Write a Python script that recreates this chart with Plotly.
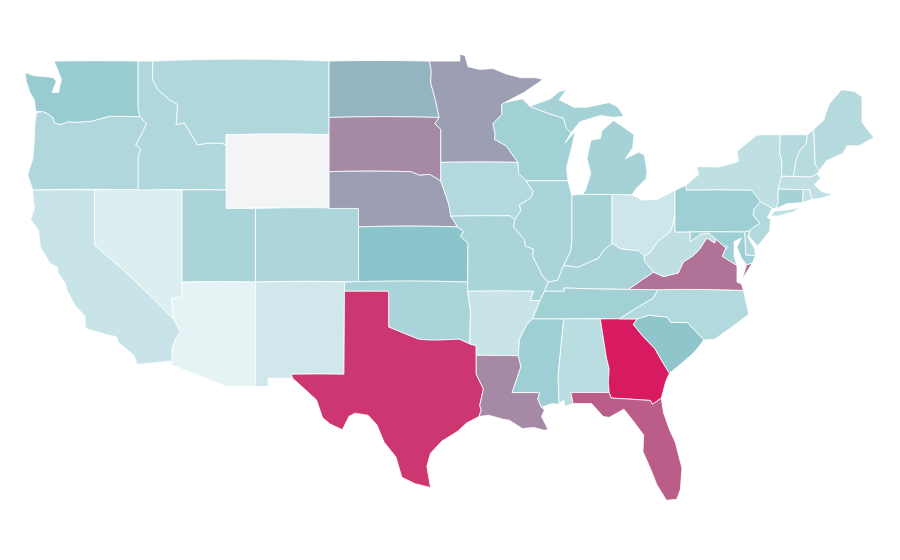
import plotly.graph_objects as go

# Values (relative shade of each state).
states = ["WA","OR","CA","NV","ID","MT","WY","UT","AZ","CO","NM","ND","SD","NE","KS","OK","TX","MN","IA","MO","AR","LA","WI","IL","IN","MI","OH","KY","TN","MS","AL","GA","FL","SC","NC","VA","WV","PA","NY","VT","NH","ME","MA","RI","CT","NJ","DE","MD","DC"]
values = [33,25,15.5,8.6,25,25,0,27,5,26,13,44,60,52,38,27,90,52,24,27,15.5,60,30,27,28,29,14,27,30,31,21,100,76,37,24,68,19,31,19,23,22,23,19,19,29,24,25,31,31]
colorscale = [[0,"#f3f4f6"],[0.05,"#e6f3f5"],[0.38,"#8bc5cb"],[1,"#d81b60"]]

# Base-map geometry: approximate state outlines (lon, lat), written by hand because
# plotly's own boundary files are fetched from a CDN and there is no network here.
columbia = [(-118.98,46.0),(-119.3,45.93),(-120.2,45.73),(-121.2,45.67),(-121.8,45.7),(-122.3,45.55),(-122.76,45.65),(-122.8,45.9),(-123.2,46.15),(-123.55,46.26)]
snake = [(-117.03,43.83),(-116.85,44.2),(-117.2,44.45),(-116.85,44.95),(-116.47,45.6),(-116.92,45.99)]
bitterroot = [(-116.05,49.0),(-116.05,48.0),(-115.7,47.45),(-114.9,46.9),(-114.35,46.65),(-114.45,45.55),(-113.9,45.65),(-113.45,45.05),(-113.0,44.45),(-112.3,44.55),(-111.5,44.55),(-111.05,44.48)]
colorado_r = [(-114.05,36.2),(-114.75,36.1),(-114.63,35.0),(-114.15,34.3),(-114.5,33.9),(-114.72,33.4),(-114.72,32.72)]
red_n = [(-97.23,49.0),(-97.1,48.5),(-97.13,47.8),(-96.85,47.0),(-96.56,45.94)]
sd_ia = [(-96.56,45.94),(-96.85,45.6),(-96.45,45.3),(-96.45,43.5)]
sd_ne = [(-104.05,43.0),(-98.5,43.0),(-97.9,42.8),(-97.2,42.85),(-96.45,42.49)]
missouri_w = [(-96.45,42.49),(-96.1,41.7),(-95.9,41.2),(-95.77,40.58)]
ks_mo = [(-95.77,40.58),(-95.31,40.0),(-94.9,39.75),(-95.1,39.5),(-94.6,39.1),(-94.62,37.0)]
red_s = [(-100.0,34.56),(-98.9,34.2),(-97.95,33.9),(-97.2,33.85),(-96.6,33.85),(-95.2,33.9),(-94.48,33.64)]
sabine = [(-94.04,32.0),(-93.55,31.2),(-93.8,30.3),(-93.7,30.05),(-93.85,29.7)]
miss_up = [(-92.3,46.65),(-92.3,46.1),(-92.9,45.6),(-92.75,45.0),(-92.8,44.75),(-92.0,44.4),(-91.2,43.5)]
miss_ia = [(-91.2,43.5),(-91.15,42.9),(-90.65,42.5)]
miss_il_ia = [(-90.65,42.5),(-90.15,41.9),(-90.35,41.55),(-91.1,41.2),(-91.0,40.9),(-91.42,40.38)]
miss_il_mo = [(-91.42,40.38),(-91.5,40.0),(-90.75,39.3),(-90.7,38.95),(-90.15,38.8),(-90.2,38.4),(-89.5,37.3),(-89.15,37.0)]
miss_ky = [(-89.15,37.0),(-89.4,36.5),(-89.7,36.0)]
miss_ar = [(-89.7,36.0),(-90.2,35.0),(-90.6,34.7),(-91.1,33.9),(-91.17,33.0)]
miss_la = [(-91.17,33.0),(-91.0,32.4),(-91.6,31.0),(-89.73,31.0),(-89.85,30.65),(-89.6,30.2)]
ohio_il = [(-89.15,37.0),(-88.5,37.1),(-88.1,37.9)]
ohio_in = [(-88.1,37.9),(-87.1,37.8),(-86.3,38.1),(-85.7,38.3),(-85.4,38.7),(-84.8,39.1)]
ohio_oh = [(-84.8,39.1),(-84.2,38.8),(-83.0,38.7),(-82.6,38.4)]
ohio_wv = [(-82.6,38.4),(-82.2,38.6),(-81.7,39.2),(-80.85,39.7),(-80.7,40.0),(-80.52,40.64)]
wabash = [(-88.1,37.9),(-88.03,38.0),(-87.6,38.7),(-87.53,39.35),(-87.53,41.7)]
ky_va = [(-83.68,36.6),(-81.97,37.54)]
ky_wv = [(-81.97,37.54),(-82.6,38.15),(-82.6,38.4)]
ky_tn = [(-89.4,36.5),(-88.05,36.5),(-88.07,36.68),(-86.0,36.63),(-83.68,36.6)]
tn_nc = [(-81.68,36.59),(-82.0,36.13),(-84.32,35.0)]
va_wv = [(-81.97,37.54),(-81.3,37.3),(-80.3,37.5),(-79.95,38.1),(-79.3,38.42),(-78.87,38.76),(-78.35,39.4),(-77.83,39.13),(-77.72,39.32)]
potomac = [(-77.72,39.32),(-77.05,38.85),(-77.3,38.4),(-76.3,37.9)]
md_wv = [(-77.72,39.32),(-78.2,39.65),(-78.8,39.6),(-79.48,39.2),(-79.48,39.72)]
sav = [(-83.1,35.0),(-83.35,34.7),(-82.75,34.1),(-81.9,33.4),(-81.4,32.7),(-80.9,32.05)]
sc_nc = [(-83.1,35.0),(-82.3,35.2),(-81.05,35.1),(-80.8,34.82),(-79.67,34.8),(-78.55,33.86)]
ga_al = [(-85.6,35.0),(-85.18,32.87),(-85.0,32.3),(-85.05,31.55),(-85.0,31.0)]
ga_fl = [(-85.0,31.0),(-84.86,30.7),(-82.2,30.57),(-82.05,30.36),(-81.45,30.7)]
ms_al = [(-88.2,35.0),(-88.1,34.9),(-88.47,31.9),(-88.4,30.37)]
delaware = [(-75.05,41.75),(-74.7,41.36),(-75.13,40.98),(-75.2,40.65),(-74.75,40.2),(-75.4,39.8)]
ct_ma_e = [(-73.5,42.05),(-71.8,42.02)]
vt_nh = [(-71.5,45.0),(-71.6,44.5),(-72.05,44.1),(-72.3,43.6),(-72.46,42.73)]
ny_vt = [(-73.35,45.0),(-73.4,44.0),(-73.25,43.6),(-73.27,42.75)]
mi_n = [(-90.4,46.55),(-89.1,46.15),(-88.1,45.9),(-87.9,45.35),(-87.6,45.1)]

def r(line):
    return line[::-1]

shapes = {
 "WA":[[(-122.76,49.0),(-117.04,49.0),(-117.04,46.42),(-116.92,45.99)]+columbia+[(-124.0,46.27),(-124.07,46.7),(-124.1,46.9),(-124.4,47.3),(-124.65,47.9),(-124.73,48.38),(-124.1,48.2),(-123.2,48.15),(-122.8,48.1),(-122.6,47.9),(-122.9,47.3),(-122.45,47.3),(-122.35,47.7),(-122.25,48.0),(-122.5,48.5)]],
 "OR":[[(-124.2,42.0),(-117.03,42.0)]+snake+columbia+[(-123.95,46.2),(-124.05,45.7),(-124.1,44.7),(-124.2,43.7),(-124.55,42.84)]],
 "CA":[[(-124.2,42.0),(-120.0,42.0),(-120.0,39.0)]+colorado_r[2:]+[(-117.12,32.53),(-117.3,33.0),(-118.4,33.75),(-118.5,34.03),(-119.2,34.15),(-120.5,34.45),(-120.65,34.6),(-120.65,35.15),(-121.3,35.7),(-121.9,36.6),(-122.0,36.95),(-122.5,37.5),(-122.5,37.8),(-123.0,38.0),(-123.7,38.9),(-123.8,39.8),(-124.35,40.4),(-124.1,41.0),(-124.2,41.75)]],
 "NV":[[(-120.0,42.0),(-114.05,42.0)]+colorado_r[:3]+[(-120.0,39.0)]],
 "ID":[[(-117.04,49.0)]+bitterroot+[(-111.05,42.0),(-117.03,42.0)]+snake+[(-117.04,46.42)]],
 "MT":[[(-116.05,49.0),(-104.05,49.0),(-104.05,45.0),(-111.05,45.0),(-111.05,44.48)]+r(bitterroot)[1:]],
 "WY":[[(-111.05,45.0),(-104.05,45.0),(-104.05,41.0),(-111.05,41.0)]],
 "UT":[[(-114.05,42.0),(-111.05,42.0),(-111.05,41.0),(-109.05,41.0),(-109.05,37.0),(-114.05,37.0)]],
 "AZ":[[(-114.05,37.0),(-109.05,37.0),(-109.05,31.33),(-111.07,31.33),(-114.8,32.5)]+r(colorado_r)],
 "CO":[[(-109.05,41.0),(-102.05,41.0),(-102.05,37.0),(-109.05,37.0)]],
 "NM":[[(-109.05,37.0),(-103.0,37.0),(-103.04,32.0),(-106.62,32.0),(-106.53,31.78),(-108.2,31.78),(-108.2,31.33),(-109.05,31.33)]],
 "ND":[[(-104.05,49.0)]+red_n+[(-104.05,45.94)]],
 "SD":[[(-104.05,45.94)]+sd_ia+r(sd_ne)],
 "NE":[sd_ne+missouri_w+ks_mo[1:2]+[(-102.05,40.0),(-102.05,41.0),(-104.05,41.0)]],
 "KS":[[(-102.05,40.0)]+ks_mo[1:]+[(-102.04,37.0)]],
 "OK":[[(-103.0,37.0),(-94.62,37.0),(-94.62,36.5),(-94.43,35.4)]+r(red_s)+[(-100.0,36.5),(-103.0,36.5)]],
 "TX":[[(-106.62,32.0),(-103.04,32.0),(-103.0,36.5),(-100.0,36.5)]+red_s+[(-94.04,33.55)]+sabine+[(-94.7,29.35),(-95.3,28.9),(-96.4,28.35),(-97.15,27.7),(-97.4,27.0),(-97.15,25.84),(-98.2,26.05),(-99.1,26.4),(-99.5,27.5),(-100.3,28.3),(-100.8,29.25),(-101.4,29.77),(-102.3,29.88),(-102.7,29.7),(-103.15,28.98),(-104.0,29.3),(-104.5,29.65),(-104.9,30.6),(-106.0,31.4),(-106.53,31.78)]],
 "MN":[[(-97.23,49.0),(-95.15,49.0),(-95.15,49.38),(-94.8,49.3),(-94.6,48.7),(-93.8,48.55),(-92.9,48.6),(-92.0,48.3),(-91.0,48.1),(-90.0,48.1),(-89.5,48.0),(-90.8,47.3),(-92.1,46.75)]+miss_up+r(sd_ia)+r(red_n)[1:-1]],
 "IA":[[(-96.45,43.5),(-91.2,43.5)]+miss_ia[1:]+miss_il_ia[1:]+[(-91.73,40.6)]+r(missouri_w)],
 "MO":[[(-95.77,40.58),(-91.73,40.6)]+miss_il_mo+miss_ky[1:]+[(-90.37,36.0),(-90.15,36.5),(-94.62,36.5)]+r(ks_mo)[:-1]],
 "AR":[[(-94.62,36.5),(-90.15,36.5),(-90.37,36.0)]+miss_ar+[(-94.04,33.02),(-94.04,33.55),(-94.48,33.64),(-94.43,35.4)]],
 "LA":[[(-94.04,33.02)]+miss_la+[(-89.4,30.05),(-89.6,29.7),(-89.15,29.0),(-89.4,28.95),(-90.1,29.1),(-90.9,29.05),(-91.8,29.5),(-92.2,29.55),(-93.2,29.77)]+r(sabine)],
 "MS":[[(-90.2,35.0)]+ms_al+[(-88.9,30.4)]+r(miss_la)+r(miss_ar)[1:3]],
 "TN":[[(-89.7,36.0),(-89.4,36.5)]+ky_tn[1:]+[(-81.68,36.59)]+tn_nc[1:]+[(-88.2,35.0),(-90.2,35.0)]],
 "KY":[[(-89.4,36.5),(-89.15,37.0)]+ohio_il[1:]+ohio_in[1:]+ohio_oh[1:]+r(ky_wv)[1:]+[(-83.68,36.6)]+r(ky_tn)[1:-1]],
 "IL":[[(-90.65,42.5),(-87.8,42.5),(-87.53,41.7)]+r(wabash)[1:]+r(ohio_il)[1:]+r(miss_il_mo)[1:]+r(miss_il_ia)[1:-1]],
 "IN":[[(-87.53,41.7),(-87.2,41.75),(-86.8,41.76),(-84.8,41.76)]+r(ohio_in)+wabash[1:4]],
 "OH":[[(-84.8,41.76),(-83.45,41.73),(-82.7,41.45),(-81.7,41.5),(-80.52,41.98)]+r(ohio_wv)+r(ohio_oh)[1:]],
 "MI":[[(-86.8,41.76),(-84.8,41.76),(-83.45,41.73),(-83.15,42.1),(-82.5,42.6),(-82.42,43.0),(-82.6,43.9),(-83.0,44.05),(-83.9,43.7),(-83.4,44.3),(-83.3,45.0),(-84.7,45.78),(-85.5,45.2),(-85.6,44.8),(-86.25,44.7),(-86.5,43.7),(-86.25,42.9),(-86.6,42.0)],
       [(-90.4,46.55),(-89.0,46.95),(-88.4,47.35),(-87.9,47.45),(-88.4,46.9),(-87.4,46.5),(-86.5,46.5),(-85.0,46.75),(-84.4,46.5),(-84.0,46.0),(-84.7,45.95),(-85.6,46.05),(-86.6,45.8),(-87.0,45.7)]+r(mi_n)[:-1]],
 "WI":[[(-92.1,46.75),(-90.9,46.95)]+mi_n+[(-88.0,44.55),(-87.3,45.2),(-87.55,44.3),(-87.9,43.2),(-87.8,42.5)]+r(miss_ia)+r(miss_up)[1:]],
 "AL":[[(-88.2,35.0)]+ga_al+[(-87.6,31.0),(-87.45,30.4),(-88.0,30.25),(-88.1,30.6)]+r(ms_al)[:-1]],
 "GA":[ga_al+ga_fl[1:]+[(-81.15,31.6)]+r(sav)],
 "FL":[[(-87.6,31.0)]+ga_fl+[(-81.3,29.9),(-80.9,29.0),(-80.5,28.3),(-80.05,26.9),(-80.15,25.75),(-80.4,25.2),(-81.1,25.15),(-81.75,26.0),(-82.15,26.8),(-82.7,27.8),(-82.65,28.7),(-83.4,29.5),(-84.0,30.1),(-85.0,29.65),(-85.4,29.7),(-86.2,30.4),(-87.45,30.4)]],
 "SC":[sc_nc+[(-79.2,33.2),(-79.9,32.7)]+r(sav)[:-1]],
 "NC":[[(-84.32,35.0),(-82.0,36.13),(-81.68,36.59),(-75.87,36.55),(-75.5,35.25),(-76.5,34.65),(-77.8,33.9)]+r(sc_nc)],
 "VA":[[(-83.68,36.6)]+va_wv+potomac[1:]+[(-76.3,37.0),(-76.0,36.9),(-75.87,36.55),(-81.68,36.59)],
       [(-75.95,37.15),(-75.6,37.6),(-75.25,38.03),(-75.65,37.95)]],
 "WV":[ohio_wv+[(-80.52,39.72),(-79.48,39.72),(-79.48,39.2),(-78.8,39.6),(-78.2,39.65)]+r(va_wv)+[(-82.6,38.15)]],
 "MD":[[(-79.48,39.72),(-75.79,39.72),(-75.7,38.46),(-75.05,38.45),(-75.25,38.03),(-75.65,37.95),(-76.0,38.3),(-76.3,38.9),(-76.0,39.4),(-76.5,39.2),(-76.5,38.4),(-76.3,37.9),(-77.3,38.4),(-77.05,38.85)]+md_wv[:-1]],
 "DC":[[(-77.12,38.93),(-77.04,39.0),(-76.91,38.89),(-77.04,38.79)]],
 "DE":[[(-75.79,39.72),(-75.4,39.8),(-75.55,39.45),(-75.1,38.8),(-75.05,38.45),(-75.7,38.46)]],
 "PA":[[(-80.52,41.98),(-79.76,42.27),(-79.76,42.0),(-75.35,42.0)]+delaware+[(-75.79,39.72),(-80.52,39.72),(-80.52,40.64)]],
 "NY":[[(-79.76,42.27),(-78.9,42.85),(-79.05,43.27),(-77.5,43.25),(-76.2,43.55),(-76.3,44.1),(-75.0,44.95),(-74.7,45.0)]+ny_vt+[(-73.5,42.05),(-73.5,41.3),(-73.65,41.0),(-73.9,41.0),(-74.7,41.36),(-75.05,41.75),(-75.35,42.0),(-79.76,42.0)],
       [(-74.0,40.6),(-73.75,40.85),(-72.6,40.95),(-71.9,41.07),(-72.5,40.8),(-73.6,40.58)]],
 "NJ":[[(-74.7,41.36),(-73.9,41.0),(-74.25,40.5),(-74.0,40.4),(-74.1,39.75),(-74.9,38.95),(-75.5,39.5),(-75.4,39.85)]+r(delaware)[1:-1]],
 "CT":[ct_ma_e+[(-71.85,41.32),(-72.9,41.25),(-73.65,41.0),(-73.5,41.3)]],
 "RI":[[(-71.8,42.02),(-71.38,42.02),(-71.2,41.5),(-71.85,41.32)]],
 "MA":[[(-73.27,42.75),(-72.46,42.73),(-71.3,42.7),(-70.85,42.87),(-70.6,42.65),(-71.05,42.3),(-70.6,41.95),(-70.05,41.8),(-70.0,42.05),(-69.95,41.7),(-70.65,41.55),(-71.2,41.5),(-71.38,42.02),(-71.8,42.02),(-73.5,42.05)]],
 "VT":[[(-73.35,45.0)]+vt_nh+r(ny_vt)[:-1]],
 "NH":[[(-71.5,45.0),(-71.08,45.3),(-70.98,43.4),(-70.7,43.07),(-70.85,42.87),(-71.3,42.7)]+r(vt_nh)[:-1]],
 "ME":[[(-71.08,45.3),(-70.4,45.8),(-70.25,46.2),(-70.0,46.7),(-69.2,47.45),(-68.3,47.35),(-67.8,47.05),(-67.8,45.7),(-67.45,45.3),(-67.0,44.85),(-68.0,44.4),(-68.8,44.4),(-69.1,44.0),(-70.2,43.6),(-70.7,43.07),(-70.98,43.4)]],
}

# The reference map is a plain lon/lat grid, stretched north-south. Plotly's
# equirectangular projection keeps degrees square, so latitudes are scaled here.
LAT_STRETCH = 1.2525

def clockwise(ring):
    ring = [(x, y*LAT_STRETCH) for x, y in ring]
    area = sum(a[0]*b[1]-b[0]*a[1] for a, b in zip(ring, ring[1:]+ring[:1]))
    ring = ring if area < 0 else ring[::-1]
    return [list(p) for p in ring+ring[:1]]

geojson = {"type":"FeatureCollection","features":[
    {"type":"Feature","id":k,"properties":{},
     "geometry":{"type":"MultiPolygon","coordinates":[[clockwise(x)] for x in v]}}
    for k,v in shapes.items()]}

fig = go.Figure(go.Choropleth(
    geojson=geojson, locations=states, z=values,
    colorscale=colorscale, zmin=0, zmax=100, showscale=False,
    marker=dict(line=dict(color="#ffffff", width=0.8)),
))
fig.update_geos(
    projection_type="equirectangular", visible=False,
    showland=False, showlakes=False, showframe=False, showcoastlines=False,
    showcountries=False, showocean=False, showrivers=False, showsubunits=False,
    bgcolor="#ffffff",
    lonaxis_range=[-125.73,-64.83], lataxis_range=[26.99,64.89],
)
fig.update_layout(width=900,height=560,margin=dict(l=0,r=0,t=0,b=0),paper_bgcolor="#ffffff")
# An empty base map held in the page itself: all outlines come from the geojson above.
empty_base = 'data:application/json,{"type":"Topology","objects":{},"arcs":[]}#'
fig.write_html("out.html", config={"topojsonURL": empty_base})
